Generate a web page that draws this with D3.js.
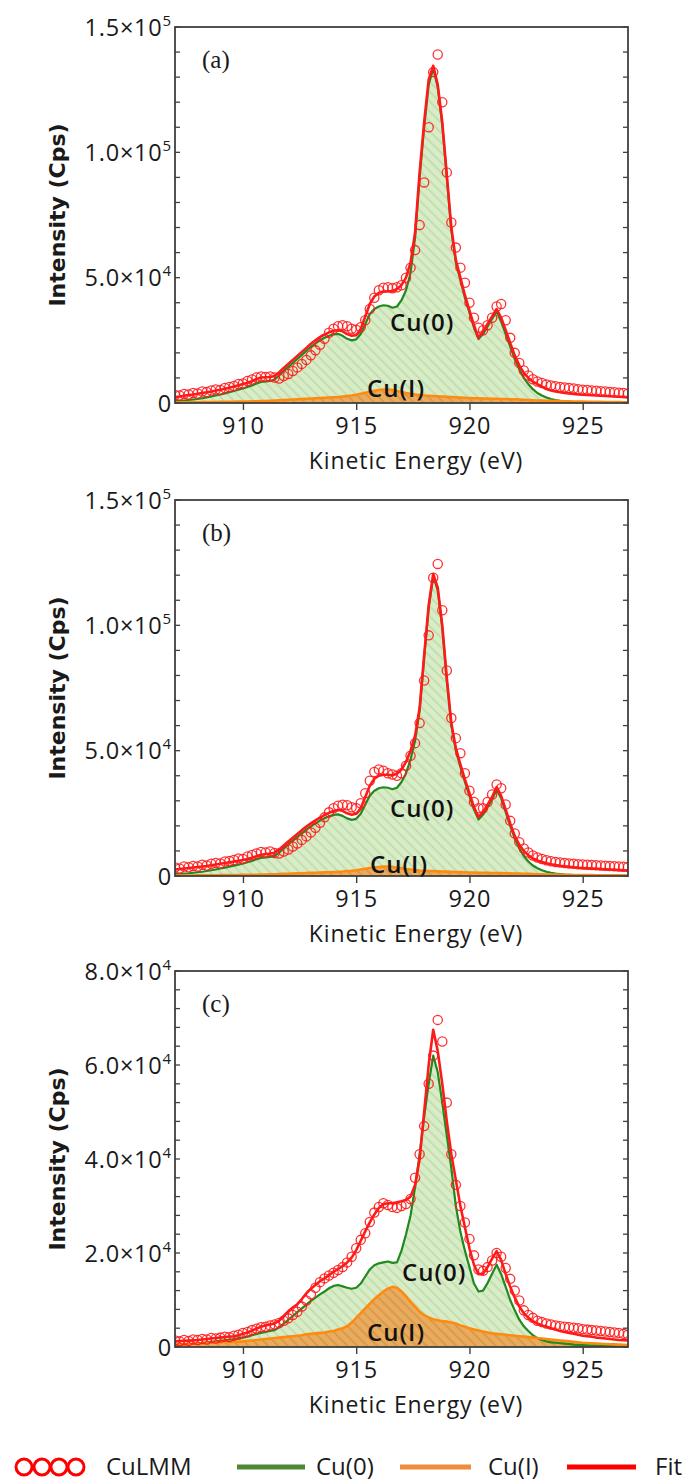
<!DOCTYPE html>
<html>
<head>
<meta charset="utf-8">
<script src="https://cdn.jsdelivr.net/npm/d3@7"></script>
<style>
  html, body { margin: 0; padding: 0; background: #fff; }
  svg { display: block; }
</style>
</head>
<body>
<div id="chart"></div>
<script>
// Kinetic energy grid (eV)
const energy = [
  907.0,907.2,907.4,907.6,907.8,908.0,908.2,908.4,908.6,908.8,909.0,909.2,909.4,909.6,909.8,
  910.0,910.2,910.4,910.6,910.8,911.0,911.2,911.4,911.6,911.8,912.0,912.2,912.4,912.6,912.8,
  913.0,913.2,913.4,913.6,913.8,914.0,914.2,914.4,914.6,914.8,915.0,915.2,915.4,915.6,915.8,
  916.0,916.2,916.4,916.6,916.8,917.0,917.2,917.4,917.6,917.8,918.0,918.2,918.4,918.6,918.8,
  919.0,919.2,919.4,919.6,919.8,920.0,920.2,920.4,920.6,920.8,921.0,921.2,921.4,921.6,921.8,
  922.0,922.2,922.4,922.6,922.8,923.0,923.2,923.4,923.6,923.8,924.0,924.2,924.4,924.6,924.8,
  925.0,925.2,925.4,925.6,925.8,926.0,926.2,926.4,926.6,926.8,927.0
];

// All intensities in 10^3 Cps
// Panel (a)
const dataA = [
  3.2,3.0,3.6,3.4,4.0,3.8,4.6,4.4,5.0,5.4,5.2,6.0,6.4,6.8,7.6,
  7.8,8.8,9.4,10.2,10.6,10.4,10.6,10.2,9.8,10.8,11.6,12.8,14.2,15.6,17.2,
  19.0,21.0,23.2,25.6,28.0,29.6,30.6,31.0,30.6,29.6,29.2,30.2,33.0,37.5,42.0,
  45.0,46.0,46.2,45.8,46.2,47.0,50.0,54.0,61.0,71.0,88.0,110.0,132.0,139.0,120.0,
  92.0,72.0,62.0,54.0,48.0,40.0,34.0,30.0,29.0,31.0,34.0,38.5,39.5,33.0,26.0,
  20.0,16.0,13.0,11.0,9.5,8.6,8.0,7.4,7.0,6.7,6.4,6.2,6.0,5.8,5.5,
  5.3,5.2,5.0,4.9,4.7,4.6,4.4,4.3,4.1,4.0,3.8
];
const fitA = [
  2.4,2.6,2.9,3.2,3.4,3.7,4.0,4.3,4.6,5.0,5.3,5.7,6.1,6.6,7.1,
  7.6,8.1,8.7,9.6,10.2,10.3,10.4,10.8,12.3,14.0,15.6,17.2,18.8,20.4,22.0,
  23.6,25.0,26.3,27.3,28.2,28.8,29.0,28.6,27.5,26.8,27.0,29.5,34.5,39.5,42.5,
  44.0,44.5,44.6,44.6,45.5,47.0,50.0,56.0,68.0,92.0,112.0,129.0,134.5,127.0,112.0,
  91.0,70.0,57.0,50.0,43.0,37.0,31.0,26.0,28.5,31.5,34.5,37.5,34.0,29.0,24.0,
  19.0,15.0,12.0,10.0,8.5,7.5,6.5,5.6,5.0,4.6,4.3,4.0,3.8,3.6,3.4,
  3.3,3.2,3.1,3.0,2.9,2.8,2.7,2.6,2.5,2.4,2.3
];
const cu0A = [
  0.8,0.9,1.0,1.2,1.4,1.6,1.9,2.2,2.6,3.0,3.4,3.8,4.3,4.8,5.3,
  5.8,6.4,7.0,7.8,8.4,8.6,8.8,9.4,11.0,12.8,14.4,16.0,17.6,19.2,20.8,
  22.4,23.8,25.0,26.0,26.8,27.4,27.6,26.8,25.6,25.0,25.4,27.5,31.5,35.5,37.5,
  38.5,39.0,38.8,38.0,38.5,41.0,45.0,52.0,66.0,90.0,110.0,127.0,133.5,126.0,111.0,
  90.0,69.0,56.0,49.0,42.0,36.0,30.0,25.5,27.5,30.5,33.5,36.5,32.5,27.5,22.5,
  17.5,13.5,10.0,7.5,5.5,4.0,3.0,2.2,1.6,1.2,0.9,0.7,0.5,0.4,0.3,
  0.2,0.2,0.15,0.15,0.1,0.1,0.1,0.1,0.1,0.1,0.1
];
const cu1A = [
  0.2,0.2,0.25,0.25,0.3,0.3,0.35,0.35,0.4,0.4,0.45,0.45,0.5,0.5,0.55,
  0.6,0.6,0.65,0.7,0.75,0.8,0.9,1.0,1.1,1.2,1.3,1.4,1.5,1.6,1.7,
  1.8,1.9,2.0,2.1,2.2,2.3,2.4,2.6,2.8,3.0,3.3,3.7,4.1,4.5,4.9,
  5.2,5.4,5.4,5.2,4.8,4.4,4.0,3.7,3.4,3.2,3.0,2.9,2.8,2.7,2.6,
  2.5,2.4,2.3,2.2,2.1,2.0,1.9,1.9,1.8,1.8,1.7,1.7,1.6,1.6,1.5,
  1.5,1.4,1.3,1.2,1.1,1.0,0.95,0.9,0.85,0.8,0.75,0.7,0.65,0.6,0.6,
  0.55,0.5,0.5,0.45,0.45,0.4,0.4,0.35,0.35,0.3,0.3
];

// Panel (b)
const dataB = [
  3.4,3.0,3.8,3.5,4.0,3.8,4.5,4.2,4.9,5.2,5.0,5.8,6.0,6.4,7.0,
  6.8,7.8,8.4,9.0,9.6,9.4,9.8,9.2,9.0,9.8,10.6,11.8,13.0,14.4,15.8,
  17.4,19.2,21.2,23.4,25.4,27.0,28.0,28.4,28.2,27.4,27.0,29.0,33.0,38.0,41.5,
  42.5,42.0,41.0,40.5,40.0,41.0,44.0,48.0,53.0,61.0,78.0,96.0,119.0,124.5,106.0,
  82.0,63.0,55.0,49.0,41.0,34.0,29.5,27.0,27.0,29.5,32.5,36.5,35.0,28.5,22.0,
  17.0,13.5,11.0,9.4,8.2,7.4,6.8,6.3,5.9,5.6,5.4,5.2,5.0,4.9,4.7,
  4.6,4.5,4.4,4.3,4.2,4.1,4.0,3.9,3.8,3.7,3.6
];
const fitB = [
  2.6,2.8,3.0,3.2,3.4,3.6,3.8,4.0,4.3,4.6,4.9,5.2,5.5,5.8,6.1,
  6.4,6.8,7.3,7.9,8.5,8.8,9.0,9.3,10.6,12.2,13.8,15.3,16.8,18.3,19.7,
  21.0,22.2,23.3,24.3,25.2,25.9,26.3,26.0,25.0,24.4,24.8,27.0,31.5,36.0,38.8,
  40.0,40.4,40.4,40.2,40.8,42.5,45.5,50.0,56.0,67.0,88.0,108.0,120.5,115.0,100.0,
  79.0,61.0,51.0,44.5,38.5,33.0,27.5,23.5,25.5,28.5,31.5,35.5,32.0,26.5,21.0,
  16.0,12.5,10.0,8.2,7.0,6.2,5.6,5.1,4.7,4.4,4.1,3.9,3.7,3.5,3.3,
  3.2,3.1,3.0,2.9,2.8,2.7,2.6,2.5,2.4,2.3,2.2
];
const cu0B = [
  0.8,0.9,1.0,1.1,1.3,1.5,1.7,2.0,2.3,2.6,3.0,3.3,3.7,4.1,4.5,
  5.0,5.5,6.0,6.7,7.2,7.4,7.6,8.0,9.4,11.0,12.6,14.1,15.6,17.1,18.5,
  19.8,21.0,22.1,23.0,23.8,24.4,24.6,24.0,23.0,22.4,22.8,24.8,28.5,32.0,34.0,
  35.0,35.4,35.2,34.6,35.2,37.5,41.0,46.5,54.0,66.0,87.0,107.0,119.5,114.0,99.0,
  78.0,60.0,50.0,43.5,37.5,32.0,26.5,22.5,24.5,27.5,30.5,34.5,31.0,25.5,20.0,
  15.0,11.0,8.0,5.8,4.2,3.1,2.3,1.7,1.3,1.0,0.8,0.6,0.5,0.4,0.3,
  0.25,0.2,0.2,0.15,0.15,0.1,0.1,0.1,0.1,0.1,0.1
];
const cu1B = [
  0.15,0.15,0.2,0.2,0.2,0.25,0.25,0.3,0.3,0.3,0.35,0.35,0.4,0.4,0.4,
  0.45,0.45,0.5,0.5,0.55,0.6,0.65,0.7,0.8,0.85,0.9,1.0,1.05,1.1,1.2,
  1.25,1.3,1.4,1.45,1.5,1.6,1.7,1.8,1.95,2.1,2.3,2.6,2.9,3.2,3.4,
  3.6,3.8,3.8,3.6,3.4,3.1,2.8,2.6,2.4,2.2,2.1,2.0,1.95,1.9,1.8,
  1.75,1.7,1.6,1.55,1.5,1.4,1.35,1.3,1.3,1.25,1.2,1.2,1.15,1.1,1.05,
  1.0,1.0,0.9,0.85,0.8,0.7,0.65,0.6,0.6,0.55,0.5,0.5,0.45,0.4,0.4,
  0.4,0.35,0.35,0.3,0.3,0.3,0.25,0.25,0.25,0.2,0.2
];

// Panel (c)
const dataC = [
  1.4,1.2,1.5,1.3,1.6,1.5,1.7,1.6,1.9,1.8,2.0,2.2,2.1,2.4,2.6,
  3.0,3.2,3.6,3.9,4.2,4.3,4.6,4.8,5.1,5.6,6.1,6.8,7.5,8.6,9.9,
  11.2,12.6,13.8,14.6,15.2,15.8,16.4,17.0,18.0,19.2,21.0,22.8,24.2,26.6,28.6,
  29.8,30.6,30.2,29.8,29.6,30.0,30.4,31.5,36.0,41.0,47.0,56.0,62.0,69.6,65.0,
  52.0,41.0,34.5,30.0,26.5,23.0,19.5,16.5,16.2,17.0,18.4,20.0,19.2,16.8,14.5,
  12.0,9.9,7.8,6.8,6.2,5.6,5.3,5.0,4.8,4.6,4.4,4.3,4.2,4.1,4.0,
  3.8,3.7,3.6,3.5,3.4,3.3,3.2,3.1,3.0,2.8,2.6
];
const fitC = [
  1.2,1.25,1.3,1.35,1.4,1.5,1.6,1.7,1.8,1.9,2.0,2.1,2.2,2.3,2.5,
  2.8,3.1,3.5,3.9,4.3,4.6,4.8,5.0,5.6,6.6,7.6,8.4,9.1,10.2,11.4,
  12.4,13.2,14.0,14.6,15.3,16.0,16.6,17.2,18.0,19.0,20.6,22.6,24.6,26.5,28.2,
  29.6,30.4,30.6,30.6,30.8,31.0,31.3,32.0,34.5,40.0,50.0,60.0,67.5,63.0,56.0,
  48.0,41.0,35.5,30.0,25.5,21.0,17.5,15.5,15.6,17.0,18.8,20.4,18.5,15.5,12.8,
  10.5,8.6,7.2,6.2,5.5,5.0,4.6,4.3,4.0,3.7,3.4,3.2,3.0,2.8,2.6,
  2.4,2.3,2.2,2.0,1.9,1.8,1.7,1.6,1.5,1.45,1.4
];
const cu0C = [
  0.5,0.55,0.6,0.65,0.7,0.8,0.9,1.0,1.1,1.2,1.3,1.4,1.5,1.7,1.9,
  2.0,2.2,2.5,2.8,3.0,3.2,3.4,3.6,4.2,5.0,5.8,6.6,7.4,8.2,9.0,
  9.8,10.5,11.2,11.8,12.5,13.0,13.2,12.9,12.6,12.4,12.6,13.5,15.0,16.5,17.4,
  17.8,18.0,18.2,17.9,18.0,20.5,24.0,28.0,34.0,41.0,49.0,56.0,62.0,58.5,52.0,
  45.0,38.0,30.0,24.5,20.5,17.0,13.5,11.8,12.0,13.6,15.6,17.5,15.5,12.8,10.0,
  7.8,5.8,4.4,3.4,2.5,1.9,1.5,1.2,1.0,0.9,0.8,0.7,0.6,0.5,0.45,
  0.4,0.35,0.3,0.3,0.25,0.2,0.2,0.2,0.2,0.2,0.2
];
const cu1C = [
  0.5,0.55,0.6,0.65,0.7,0.75,0.8,0.85,0.9,0.95,1.0,1.05,1.1,1.1,1.15,
  1.2,1.3,1.4,1.5,1.6,1.7,1.8,1.9,2.0,2.1,2.2,2.3,2.4,2.5,2.7,
  2.8,2.9,3.0,3.1,3.3,3.4,3.7,4.0,4.4,5.2,6.2,7.2,8.2,9.2,10.2,
  11.0,11.8,12.4,12.8,12.6,11.8,10.8,9.6,8.6,7.5,6.8,6.3,5.9,5.7,5.5,
  5.4,5.2,5.0,4.6,4.3,4.0,3.7,3.5,3.3,3.1,2.9,2.8,2.7,2.6,2.5,
  2.4,2.3,2.2,2.1,2.0,1.9,1.8,1.7,1.6,1.5,1.4,1.3,1.2,1.1,1.0,
  0.9,0.85,0.8,0.75,0.7,0.65,0.6,0.55,0.5,0.45,0.4
];

// Axis ticks (10^3 Cps)
const panelLabels = ['(a)', '(b)', '(c)'];
const yMax = [150, 150, 80];
const yMinorStep = [10, 10, 4];
const yMajorA = [{ v: 0, m: '0' }, { v: 50, m: '5.0', e: '4' }, { v: 100, m: '1.0', e: '5' }, { v: 150, m: '1.5', e: '5' }];
const yMajorC = [{ v: 0, m: '0' }, { v: 20, m: '2.0', e: '4' }, { v: 40, m: '4.0', e: '4' }, { v: 60, m: '6.0', e: '4' }, { v: 80, m: '8.0', e: '4' }];
const xTicks = [910, 915, 920, 925];
const legendItems = ['CuLMM', 'Cu(0)', 'Cu(I)', 'Fit'];

const panels = [
  { data: dataA, fit: fitA, cu0: cu0A, cu1: cu1A, top: 27, yMajor: yMajorA,
    cu0Lbl: [390, 331], cu1Lbl: [367, 397] },
  { data: dataB, fit: fitB, cu0: cu0B, cu1: cu1B, top: 500, yMajor: yMajorA,
    cu0Lbl: [390, 817], cu1Lbl: [370, 873] },
  { data: dataC, fit: fitC, cu0: cu0C, cu1: cu1C, top: 971, yMajor: yMajorC,
    cu0Lbl: [402, 1281], cu1Lbl: [367, 1341] },
];

const W = 689, H = 1483;
const left = 175, right = 628, plotH = 376;
const FONT = '"Open Sans", "DejaVu Sans", sans-serif';

const colors = {
  red: '#ff1a1a',
  green: '#1f8a1f',
  orange: '#ff8a10',
  greenFill: '#d8ecc8',
  greenHatch: '#b9d8a2',
  orangeFill: '#eba655',
  orangeHatch: '#d38a35',
  frame: '#404040',
};

const svg = d3.select('#chart').append('svg')
  .attr('width', W).attr('height', H)
  .attr('viewBox', `0 0 ${W} ${H}`);

const defs = svg.append('defs');

function hatch(id, bg, fg) {
  const p = defs.append('pattern')
    .attr('id', id)
    .attr('patternUnits', 'userSpaceOnUse')
    .attr('width', 7).attr('height', 7)
    .attr('patternTransform', 'rotate(-45)');
  p.append('rect').attr('width', 7).attr('height', 7).attr('fill', bg);
  p.append('line').attr('x1', 1).attr('y1', 0).attr('x2', 1).attr('y2', 7)
    .attr('stroke', fg).attr('stroke-width', 1.3);
}
hatch('hatch-green', colors.greenFill, colors.greenHatch);
hatch('hatch-orange', colors.orangeFill, colors.orangeHatch);

const x = d3.scaleLinear().domain([907, 927]).range([left, right]);

panels.forEach((p, pi) => {
  const top = p.top, bottom = top + plotH;
  const y = d3.scaleLinear().domain([0, yMax[pi]]).range([bottom, top]);

  const clipId = `clip-${pi}`;
  defs.append('clipPath').attr('id', clipId)
    .append('rect').attr('x', left).attr('y', top)
    .attr('width', right - left).attr('height', plotH);

  const g = svg.append('g');
  const plot = g.append('g').attr('clip-path', `url(#${clipId})`);

  const area = (vals) => d3.area()
    .x((d, i) => x(energy[i]))
    .y0(y(0))
    .y1(d => y(d))(vals);
  const line = (vals) => d3.line()
    .x((d, i) => x(energy[i]))
    .y(d => y(d))(vals);

  // Component fills
  plot.append('path').attr('d', area(p.cu0)).attr('fill', 'url(#hatch-green)');
  plot.append('path').attr('d', area(p.cu1)).attr('fill', 'url(#hatch-orange)').attr('opacity', 0.92);

  // Component lines
  plot.append('path').attr('d', line(p.cu0))
    .attr('fill', 'none').attr('stroke', colors.green).attr('stroke-width', 2.2)
    .attr('stroke-linejoin', 'round');
  plot.append('path').attr('d', line(p.cu1))
    .attr('fill', 'none').attr('stroke', colors.orange).attr('stroke-width', 2.6)
    .attr('stroke-linejoin', 'round');

  // Fit
  plot.append('path').attr('d', line(p.fit))
    .attr('fill', 'none').attr('stroke', colors.red).attr('stroke-width', 2.6)
    .attr('stroke-linejoin', 'round');

  // Measured points
  plot.append('g').selectAll('circle')
    .data(p.data)
    .join('circle')
    .attr('cx', (d, i) => x(energy[i]))
    .attr('cy', d => y(d))
    .attr('r', 4.6)
    .attr('fill', 'none')
    .attr('stroke', colors.red)
    .attr('stroke-width', 1.3)
    .attr('opacity', 0.9);

  // Frame
  g.append('rect')
    .attr('x', left).attr('y', top)
    .attr('width', right - left).attr('height', plotH)
    .attr('fill', 'none').attr('stroke', colors.frame).attr('stroke-width', 1.8);

  // Y ticks (inward, both sides)
  const minor = d3.range(0, yMax[pi] + 0.001, yMinorStep[pi]);
  g.append('g').selectAll('line.l').data(minor).join('line')
    .attr('x1', left).attr('x2', left + 5)
    .attr('y1', d => y(d)).attr('y2', d => y(d))
    .attr('stroke', colors.frame).attr('stroke-width', 1.3);
  g.append('g').selectAll('line.r').data(minor).join('line')
    .attr('x1', right - 5).attr('x2', right)
    .attr('y1', d => y(d)).attr('y2', d => y(d))
    .attr('stroke', colors.frame).attr('stroke-width', 1.3);

  // Y tick labels
  p.yMajor.forEach(t => {
    const txt = g.append('text')
      .attr('x', 172).attr('y', y(t.v) + 8.5)
      .attr('text-anchor', 'end')
      .attr('font-family', FONT).attr('font-size', 23.5)
      .attr('letter-spacing', 0.8)
      .attr('fill', '#1a1a1a');
    if (t.e) {
      txt.append('tspan').text(t.m + '×10');
      txt.append('tspan').attr('dy', -10).attr('font-size', 15).text(t.e);
    } else {
      txt.text(t.m);
    }
  });

  // X ticks (outward)
  const xAxis = d3.axisBottom(x).tickValues(xTicks).tickSize(7).tickFormat(d3.format('d'));
  const xg = g.append('g').attr('transform', `translate(0,${bottom})`).call(xAxis);
  xg.select('.domain').remove();
  xg.selectAll('line').attr('stroke', colors.frame).attr('stroke-width', 1.4);
  xg.selectAll('text')
    .attr('y', 14)
    .attr('dy', '0.71em')
    .attr('font-family', FONT).attr('font-size', 23.5)
    .attr('letter-spacing', 0.8)
    .attr('fill', '#1a1a1a');

  // Axis titles
  g.append('text')
    .attr('x', 416).attr('y', bottom + 66)
    .attr('text-anchor', 'middle')
    .attr('font-family', FONT).attr('font-size', 23)
    .attr('letter-spacing', 0.9)
    .attr('fill', '#1a1a1a')
    .text('Kinetic Energy (eV)');

  g.append('text')
    .attr('transform', `translate(65,${top + plotH / 2}) rotate(-90)`)
    .attr('text-anchor', 'middle')
    .attr('font-family', '"DejaVu Sans", sans-serif').attr('font-size', 22)
    .attr('font-weight', 'bold')
    .attr('fill', '#1a1a1a')
    .text('Intensity (Cps)');

  // Panel letter
  g.append('text')
    .attr('x', 202).attr('y', top + 41)
    .attr('font-family', '"Liberation Serif", "DejaVu Serif", serif').attr('font-size', 25)
    .attr('fill', '#1a1a1a')
    .text(panelLabels[pi]);

  // Component labels
  g.append('text')
    .attr('x', p.cu0Lbl[0]).attr('y', p.cu0Lbl[1])
    .attr('font-family', FONT).attr('font-size', 24).attr('font-weight', 600)
    .attr('letter-spacing', 1)
    .attr('fill', '#111')
    .text('Cu(0)');
  g.append('text')
    .attr('x', p.cu1Lbl[0]).attr('y', p.cu1Lbl[1])
    .attr('font-family', FONT).attr('font-size', 24).attr('font-weight', 600)
    .attr('letter-spacing', 1)
    .attr('fill', '#111')
    .text('Cu(I)');
});

// Legend
const ly = 1467;
const leg = svg.append('g');
[24, 42, 59, 76].forEach(cx => {
  leg.append('circle').attr('cx', cx).attr('cy', ly).attr('r', 8)
    .attr('fill', 'none').attr('stroke', '#ff0000').attr('stroke-width', 3);
});
const legLines = [
  { x1: 237, x2: 305, color: '#4f8a32' },
  { x1: 400, x2: 471, color: '#f08a3c' },
  { x1: 567, x2: 636, color: '#ff0000' },
];
legLines.forEach(l => {
  leg.append('line').attr('x1', l.x1).attr('x2', l.x2).attr('y1', ly).attr('y2', ly)
    .attr('stroke', l.color).attr('stroke-width', 5);
});
const legTextX = [106, 316, 488, 655];
legendItems.forEach((t, i) => {
  leg.append('text')
    .attr('x', legTextX[i]).attr('y', ly + 8)
    .attr('font-family', FONT).attr('font-size', 24)
    .attr('fill', '#1a1a1a')
    .text(t);
});
</script>
</body>
</html>
